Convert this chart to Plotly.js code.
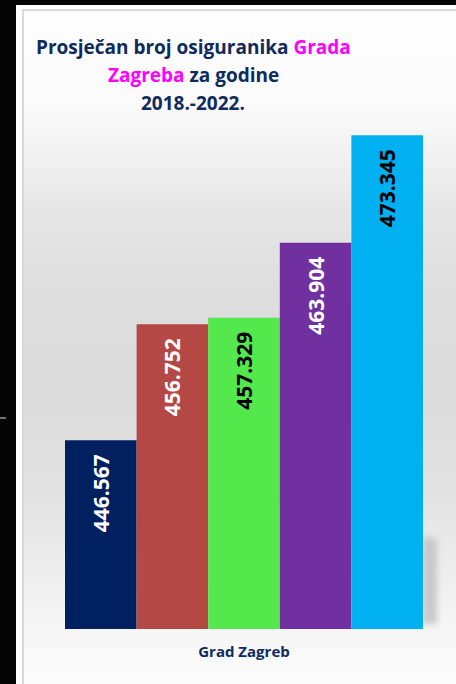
<!DOCTYPE html>
<html>
<head>
<meta charset="utf-8">
<script src="https://cdn.plot.ly/plotly-3.0.1.min.js"></script>
<style>
  html, body { margin: 0; padding: 0; width: 456px; height: 684px; overflow: hidden; background: #ffffff; }
  #blackTop { position: absolute; left: 0; top: 0; width: 456px; height: 5px; background: #050505; }
  #blackLeft { position: absolute; left: 0; top: 0; width: 16px; height: 684px; background: #050505; }
  #frame { position: absolute; left: 22px; top: 9px; width: 434px; height: 675px; background: #d9d9d9; }
  #bg { position: absolute; left: 24px; top: 11px; width: 432px; height: 673px;
        background: linear-gradient(to bottom, #fdfdfd 0px, #fbfbfb 90px, #f2f2f2 140px, #e6e6e6 200px, #dddddd 290px, #dcdcdc 400px, #e2e2e2 480px, #ececec 550px, #f6f6f6 620px, #fcfcfc 673px); }
  #shadow { position: absolute; left: 422px; top: 538px; width: 15px; height: 86px; background: #c2c2c2; filter: blur(3px); opacity: 0.85; }
  #tick { position: absolute; left: 0; top: 417px; width: 6px; height: 2px; background: #707070; }
  #plot { position: absolute; left: 0; top: 0; width: 456px; height: 684px; }
</style>
</head>
<body>
<div id="blackTop"></div>
<div id="blackLeft"></div>
<div id="frame"></div>
<div id="bg"></div>
<div id="shadow"></div>
<div id="tick"></div>
<div id="plot"></div>
<script>
// Data
const category = ["Grad Zagreb"];
const years = ["2018", "2019", "2020", "2021", "2022"];
const values = [446567, 456752, 457329, 463904, 473345];
const labels = ["446.567", "456.752", "457.329", "463.904", "473.345"];
const barColors = ["#002060", "#b44845", "#53e84b", "#7030a0", "#00b0f0"];
const labelColors = ["#ffffff", "#ffffff", "#000000", "#ffffff", "#000000"];

const pad = "\u00a0\u00a0";
const traces = years.map((yr, i) => ({
  type: "bar",
  name: yr,
  x: category,
  y: [values[i]],
  text: [labels[i] + pad],
  textposition: "inside",
  insidetextanchor: "end",
  textangle: -90,
  constraintext: "none",
  textfont: { family: "Open Sans, sans-serif", size: 21, color: labelColors[i], weight: "bold" },
  marker: { color: barColors[i], line: { width: 0 } },
  hoverinfo: "none"
}));

const titleFont = { family: "Open Sans, sans-serif", size: 19, color: "#0f2a5c", weight: "bold" };
const layout = {
  width: 456, height: 684,
  paper_bgcolor: "rgba(0,0,0,0)",
  plot_bgcolor: "rgba(0,0,0,0)",
  margin: { l: 32, r: 0, t: 55, b: 55 },
  barmode: "group",
  bargap: 0.1557,
  bargroupgap: 0,
  showlegend: false,
  uniformtext: { mode: false },
  xaxis: {
    type: "category",
    showline: false, showgrid: false, zeroline: false, ticks: "",
    ticklabelstandoff: 12,
    tickfont: { family: "Open Sans, sans-serif", size: 15, color: "#0f2a5c", weight: "bold" }
  },
  yaxis: {
    visible: false,
    range: [430000, 476444 + (476444 - 430000) * 45 / 529],
    showgrid: false, zeroline: false
  },
  annotations: [
    { text: "Prosječan broj osiguranika <span style='color:#ff00ff'>Grada</span>", xref: "paper", yref: "paper", x: (193 - 32) / 424, y: (629 - 47) / 574, xanchor: "center", yanchor: "middle", showarrow: false, font: titleFont },
    { text: "<span style='color:#ff00ff'>Zagreba</span> za godine", xref: "paper", yref: "paper", x: (193 - 32) / 424, y: (629 - 75) / 574, xanchor: "center", yanchor: "middle", showarrow: false, font: titleFont },
    { text: "2018.-2022.", xref: "paper", yref: "paper", x: (193 - 32) / 424, y: (629 - 103) / 574, xanchor: "center", yanchor: "middle", showarrow: false, font: titleFont }
  ]
};

Plotly.newPlot("plot", traces, layout, { displayModeBar: false, staticPlot: true });
</script>
</body>
</html>
